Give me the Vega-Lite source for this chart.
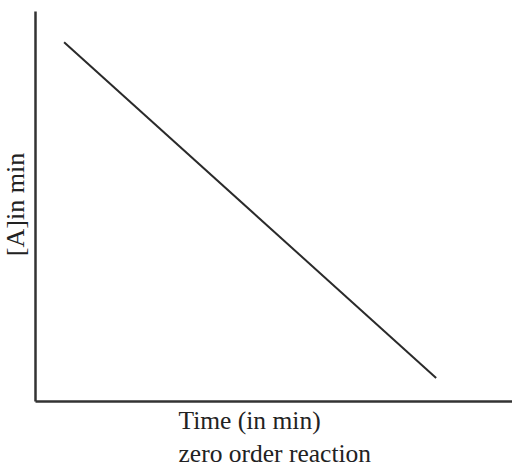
{
  "$schema": "https://vega.github.io/schema/vega-lite/v6.json",
  "width": 477,
  "height": 390,
  "autosize": {"type": "none"},
  "padding": {"left": 35, "top": 11, "right": 0, "bottom": 67},
  "background": "white",
  "config": {"view": {"stroke": null}},
  "data": {"values": [
    {"time": 6.1, "conc": 92.0},
    {"time": 84.1, "conc": 5.9}
  ]},
  "mark": {"type": "line", "color": "#2a2a2a", "strokeWidth": 2},
  "encoding": {
    "x": {
      "field": "time", "type": "quantitative",
      "scale": {"domain": [0, 100], "nice": false, "zero": false},
      "axis": {
        "title": ["Time (in min)", "zero order reaction"],
        "ticks": false, "labels": false, "grid": false,
        "domainColor": "#333", "domainWidth": 2.5,
        "titleFont": "Liberation Serif", "titleFontSize": 25.5, "titleFontWeight": "normal",
        "titleColor": "#222", "titleAlign": "left", "titleAnchor": "start",
        "titleX": 143, "titleY": 27, "titleBaseline": "alphabetic", "titleLineHeight": 33
      }
    },
    "y": {
      "field": "conc", "type": "quantitative",
      "scale": {"domain": [0, 100], "nice": false, "zero": false},
      "axis": {
        "title": "[A]in min",
        "ticks": false, "labels": false, "grid": false,
        "domainColor": "#333", "domainWidth": 2.5,
        "titleFont": "Liberation Serif", "titleFontSize": 26, "titleFontWeight": "normal",
        "titleColor": "#222", "titleAngle": -90, "titleAlign": "center",
        "titleX": -20, "titleY": 193, "titleBaseline": "middle"
      }
    }
  }
}
